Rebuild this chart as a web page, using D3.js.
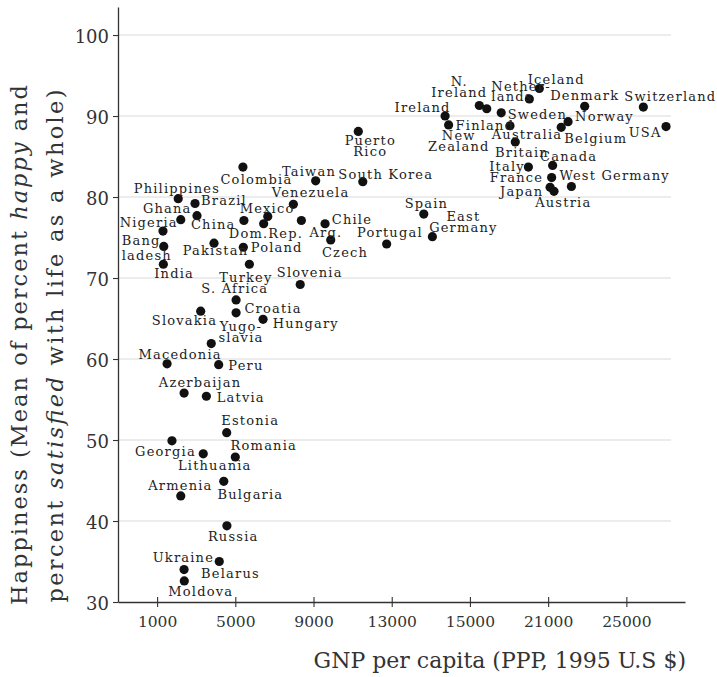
<!DOCTYPE html>
<html>
<head>
<meta charset="utf-8">
<script src="https://cdn.jsdelivr.net/npm/d3@7"></script>
<style>
  html, body { margin: 0; padding: 0; background: #fff; }
  svg { display: block; }
</style>
</head>
<body>
<svg id="chart" width="717" height="677"></svg>
<script>
// ---------------- DATA ----------------
const countries = [
  "Iceland","Netherlands","Denmark","Switzerland","Sweden","N. Ireland","New Zealand","Ireland",
  "Finland","Norway","Belgium","USA","Australia","Britain","Canada","Italy","France","West Germany",
  "Japan","Austria","Puerto Rico","Spain","East Germany","Portugal","South Korea","Taiwan","Colombia",
  "Philippines","Brazil","Venezuela","Ghana","China","Nigeria","","Mexico","Dom.Rep.","Arg.","Chile",
  "Czech","Bangladesh","Pakistan","Poland","India","Turkey","Slovenia","S. Africa","Croatia","Slovakia",
  "Hungary","Yugoslavia","Macedonia","Peru","Azerbaijan","Latvia","Estonia","Georgia","Lithuania",
  "Romania","Bulgaria","Armenia","Russia","Belarus","Ukraine","Moldova"
];
const gnp = [
  20550,20040,22870,25870,18600,17480,17860,15730,
  15910,22020,21670,27030,19050,19320,21230,19990,21180,22190,
  21100,21300,11290,14640,15080,12740,11520,9110,5390,
  2080,2940,7970,2210,3040,1300,5440,6660,6450,8380,9590,
  9880,1340,3910,5410,1320,5720,8320,5040,5040,3230,
  6420,3770,1510,4150,2380,3520,4560,1760,3360,
  5000,4410,2210,4570,4180,2380,2390
];
const happiness = [
  93.4,92.1,91.2,91.1,90.4,91.3,90.9,90.0,
  88.9,89.3,88.6,88.7,88.8,86.8,83.9,83.7,82.4,81.3,
  81.2,80.7,88.1,77.9,75.1,74.2,81.9,82.0,83.7,
  79.8,79.2,79.1,77.2,77.7,75.8,77.1,77.6,76.7,77.1,76.7,
  74.7,73.9,74.3,73.8,71.7,71.7,69.2,67.3,65.7,65.9,
  64.9,61.9,59.4,59.3,55.8,55.4,50.9,49.9,48.3,
  47.9,44.9,43.1,39.4,35.0,34.0,32.6
];
// label text as printed (line breaks with \n)
const labelText = [
  "Iceland","Nether-\nlands","Denmark","Switzerland","Sweden","N.\nIreland","New\nZealand","Ireland",
  "Finland","Norway","Belgium","USA","Australia","Britain","Canada","Italy","France","West Germany",
  "Japan","Austria","Puerto\nRico","Spain","East\nGermany","Portugal","South Korea","Taiwan","Colombia",
  "Philippines","Brazil","Venezuela","Ghana","China","Nigeria","","Mexico","Dom.Rep.","Arg.","Chile",
  "Czech","Bang\nladesh","Pakistan","Poland","India","Turkey","Slovenia","S. Africa","Croatia","Slovakia",
  "Hungary","Yugo-\nslavia","Macedonia","Peru","Azerbaijan","Latvia","Estonia","Georgia","Lithuania",
  "Romania","Bulgaria","Armenia","Russia","Belarus","Ukraine","Moldova"
];
const xTickValues = [1000,5000,9000,13000,17000,21000,25000];
const xTickLabels = ["1000","5000","9000","13000","15000","21000","25000"];
const yTickValues = [30,40,50,60,70,80,90,100];
const yTickLabels = ["30","40","50","60","70","80","90","100"];

// ---------------- LAYOUT (label placement relative to each dot: anchor, dx, dy, line gap) -------
const labelLayout = [
  ["middle",17,-9.5],["start",-38,-12.6,10],["middle",0,-11],["start",-19,-10.7],["start",6.5,1.3],["middle",-20,-24.3,10.7],["middle",-28,26.3,10.7],["middle",-22.5,-9.3],
  ["start",7,0],["start",7,-6],["start",3,10.4],["end",-4.5,5],["middle",17,8.3],["middle",6.7,10],["middle",16,-9.3],["end",-3.5,-1],["end",-8.4,-1],["start",-12,-11],
  ["end",-6.7,3.4],["middle",9.3,10.4],["middle",12,8.3,11],["middle",2.6,-10.7],["middle",31,-20.7,11.3],["middle",3.3,-12],["middle",23,-8],["middle",-6.7,-10],["middle",13.5,11.7],
  ["middle",-1.3,-10.6],["start",6,-3.7],["middle",17.2,-12.6],["middle",-13.5,-11.3],["middle",16.3,8.3],["middle",-14.3,-9],["middle",0,0],["middle",-0.7,-8.3],["middle",2.3,9],["middle",24.5,11],["start",6.7,-5],
  ["middle",14.3,12],["start",-42,-6,14.3],["middle",1.5,6.7],["start",7.4,-0.6],["middle",10.8,8.7],["middle",-3.5,12.7],["middle",9.5,-12],["middle",-1.3,-12.3],["start",8.3,-4.4],["middle",-16.2,9],
  ["start",9.7,3.6],["middle",29.7,-17.7,11.3],["middle",13,-10],["start",9.6,0],["middle",16,-11],["start",10.4,0.7],["middle",23.5,-12.7],["middle",-6.5,10],["middle",11.5,11],
  ["middle",28.5,-12.3],["middle",26.6,12.7],["middle",-0.4,-11],["middle",6.3,10],["middle",11.2,11],["middle",-0.7,-12.3],["middle",16.5,10.4]
];

const data = countries.map((c, i) => ({
  country: c, gnp: gnp[i], happy: happiness[i], label: labelText[i], layout: labelLayout[i]
}));

// ---------------- CHART ----------------
const svg = d3.select("#chart");
const serif = "'DejaVu Serif', serif";

const x = d3.scaleLinear().domain([-1000, 28000]).range([118, 685]);
const y = d3.scaleLinear().domain([30, 103.46]).range([602, 7]);

// gridlines
svg.append("g").selectAll("line")
  .data(yTickValues.filter(v => v > 30))
  .join("line")
  .attr("x1", x.range()[0]).attr("x2", 671)
  .attr("y1", d => y(d)).attr("y2", d => y(d))
  .attr("stroke", "#e6e6e6").attr("stroke-width", 1.3);

// x axis
const xAxis = d3.axisBottom(x)
  .tickValues(xTickValues)
  .tickFormat((d, i) => xTickLabels[i])
  .tickSizeInner(5).tickSizeOuter(0).tickPadding(9);
const gx = svg.append("g").attr("transform", `translate(0,${y.range()[0]})`).call(xAxis);
gx.select(".domain").attr("stroke", "#333").attr("stroke-width", 1.3);
gx.selectAll(".tick line").attr("y1", -5).attr("y2", 5).attr("stroke", "#333").attr("stroke-width", 1.1);
gx.selectAll(".tick text").attr("font-family", serif).attr("font-size", 15.5).attr("fill", "#333");

// y axis
const yAxis = d3.axisLeft(y)
  .tickValues(yTickValues)
  .tickFormat((d, i) => yTickLabels[i])
  .tickSizeInner(5).tickSizeOuter(0).tickPadding(4);
const gy = svg.append("g").attr("transform", `translate(${x.range()[0]},0)`).call(yAxis);
gy.select(".domain").attr("stroke", "#333").attr("stroke-width", 1.3);
gy.selectAll(".tick line").attr("stroke", "#333").attr("stroke-width", 1.1);
gy.selectAll(".tick text").attr("font-family", serif).attr("font-size", 18).attr("fill", "#333").attr("dy", "0.4em");

// points
svg.append("g").selectAll("circle")
  .data(data)
  .join("circle")
  .attr("cx", d => x(d.gnp))
  .attr("cy", d => y(d.happy))
  .attr("r", 4.6)
  .attr("fill", "#111");

// point labels
const lg = svg.append("g")
  .attr("font-family", serif).attr("font-size", 13)
  .attr("letter-spacing", "1.2px").attr("fill", "#222");
data.filter(d => d.label).forEach(d => {
  const [anchor, dx, dy, gap] = d.layout;
  const lines = d.label.split("\n");
  const t = lg.append("text")
    .attr("text-anchor", anchor)
    .attr("dominant-baseline", "central");
  lines.forEach((ln, j) => {
    t.append("tspan")
      .attr("x", x(d.gnp) + dx)
      .attr("y", y(d.happy) + dy + j * (gap || 11))
      .text(ln);
  });
});

// x title
svg.append("text")
  .attr("x", 686).attr("y", 668)
  .attr("text-anchor", "end")
  .attr("font-family", serif).attr("font-size", 22).attr("fill", "#333")
  .text("GNP per capita (PPP, 1995 U.S $)");

// y title (two lines), stretched to the reference extent
const yt = svg.append("text")
  .attr("transform", "translate(27,345) rotate(-90)")
  .attr("text-anchor", "middle")
  .attr("textLength", 520).attr("lengthAdjust", "spacing")
  .attr("font-family", serif).attr("font-size", 22.5).attr("fill", "#333");
yt.append("tspan").text("Happiness (Mean of percent ");
yt.append("tspan").attr("font-style", "italic").text("happy");
yt.append("tspan").text(" and");
const yt2 = svg.append("text")
  .attr("transform", "translate(63,346) rotate(-90)")
  .attr("text-anchor", "middle")
  .attr("textLength", 513).attr("lengthAdjust", "spacing")
  .attr("font-family", serif).attr("font-size", 22.5).attr("fill", "#333");
yt2.append("tspan").text("percent ");
yt2.append("tspan").attr("font-style", "italic").text("satisfied");
yt2.append("tspan").text(" with life as a whole)");
</script>
</body>
</html>
